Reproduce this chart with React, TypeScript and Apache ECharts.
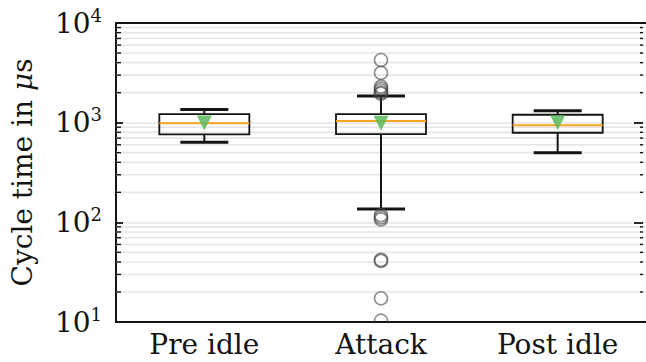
import React, { useEffect, useRef } from "react";
import * as echarts from "echarts";

const categories = ["Pre idle", "Attack", "Post idle"];
const lowerWhisker = [635, 136, 499];
const q1 = [763, 769, 792];
const median = [984, 1038, 940];
const q3 = [1219, 1219, 1200];
const upperWhisker = [1358, 1849, 1316];
const means = [990, 985, 1000];
const attackOutliers = [4250, 3160, 2300, 2200, 2100, 2000, 1950, 118, 112, 107, 42, 41, 17.3, 10.3];
const minorGrid = [
  20, 30, 40, 50, 60, 70, 80, 90,
  200, 300, 400, 500, 600, 700, 800, 900,
  2000, 3000, 4000, 5000, 6000, 7000, 8000, 9000,
];

const FONT = "DejaVu Serif";
const INK = "#141414";
const RIGHT_AXIS_SHIFT = 3;

export default function App() {
  const ref = useRef<HTMLDivElement>(null);
  useEffect(() => {
    if (!ref.current) return;
    const chart = echarts.init(ref.current, undefined, { renderer: "svg" });
    const boxData = categories.map((_, i) => [i, lowerWhisker[i], q1[i], median[i], q3[i], upperWhisker[i]]);
    const outlierData = attackOutliers.map((v) => [1, v]);
    const meanData = means.map((v, i) => [i, v]);
    const minorData = minorGrid.map((v) => [0, v]);

    const option: any = {
      animation: false,
      backgroundColor: "#ffffff",
      grid: { left: 116, top: 23, width: 535, height: 299, containLabel: false },
      xAxis: [
        {
          type: "category",
          data: categories,
          boundaryGap: true,
          axisLine: { lineStyle: { color: INK, width: 2 } },
          axisTick: { inside: true, alignWithLabel: true, length: 13, lineStyle: { color: INK, width: 1.8 } },
          axisLabel: { fontFamily: FONT, fontSize: 28, color: INK, margin: 8 },
          splitLine: { show: false },
        },
        {
          type: "category",
          data: categories,
          position: "top",
          boundaryGap: true,
          axisLine: { lineStyle: { color: INK, width: 2 } },
          axisTick: { inside: true, alignWithLabel: true, length: 13, lineStyle: { color: INK, width: 1.8 } },
          axisLabel: { show: false },
          splitLine: { show: false },
        },
      ],
      yAxis: [
        {
          type: "log",
          logBase: 10,
          min: 10,
          max: 10000,
          name: "Cycle time in {i|μ}s",
          nameLocation: "middle",
          nameGap: 80,
          nameTextStyle: {
            fontFamily: FONT,
            fontSize: 28,
            color: INK,
            rich: { i: { fontFamily: FONT, fontSize: 28, fontStyle: "italic", color: INK } },
          },
          axisLine: { show: true, lineStyle: { color: INK, width: 2 } },
          axisTick: { show: true, inside: true, length: 7, lineStyle: { color: INK, width: 1.8 } },
          axisLabel: {
            margin: 14,
            formatter: (v: number) => `{b|10}{s|${Math.round(Math.log10(v))}}`,
            rich: {
              b: { fontFamily: FONT, fontSize: 28, lineHeight: 34, color: INK },
              s: { fontFamily: FONT, fontSize: 18, lineHeight: 18, verticalAlign: "top", color: INK },
            },
          },
          splitLine: { show: true, lineStyle: { color: "#e6e6e6", width: 1.6 } },
        },
        {
          type: "log",
          logBase: 10,
          min: 10,
          max: 10000,
          position: "right",
          offset: -RIGHT_AXIS_SHIFT,
          axisLine: { show: false },
          axisTick: { show: true, inside: true, length: 9, lineStyle: { color: INK, width: 1.8 } },
          axisLabel: { show: false },
          splitLine: { show: false },
        },
      ],
      series: [
        {
          type: "custom",
          name: "minor grid",
          z: 1,
          silent: true,
          data: minorData,
          encode: { x: 0, y: 1 },
          renderItem: (params: any, api: any) => {
            const p = api.coord([0, api.value(1)]);
            const cs = params.coordSys;
            const y = p[1];
            const rx = cs.x + cs.width - RIGHT_AXIS_SHIFT;
            return {
              type: "group",
              children: [
                { type: "line", shape: { x1: cs.x, y1: y, x2: cs.x + cs.width, y2: y }, style: { stroke: "#e6e6e6", lineWidth: 1.6 } },
                { type: "line", shape: { x1: cs.x, y1: y, x2: cs.x + 5, y2: y }, style: { stroke: INK, lineWidth: 1.4 } },
                { type: "line", shape: { x1: rx - 3, y1: y, x2: rx, y2: y }, style: { stroke: INK, lineWidth: 1.4 } },
              ],
            };
          },
        },
        {
          type: "custom",
          name: "boxes",
          z: 3,
          data: boxData,
          encode: { x: 0, y: [1, 2, 3, 4, 5] },
          renderItem: (params: any, api: any) => {
            const i = api.value(0);
            const lo = api.coord([i, api.value(1)]);
            const pq1 = api.coord([i, api.value(2)]);
            const pm = api.coord([i, api.value(3)]);
            const pq3 = api.coord([i, api.value(4)]);
            const hi = api.coord([i, api.value(5)]);
            const x = lo[0];
            const hw = 45;
            const cw = 24;
            return {
              type: "group",
              children: [
                { type: "line", shape: { x1: x, y1: pq1[1], x2: x, y2: lo[1] }, style: { stroke: INK, lineWidth: 2 } },
                { type: "line", shape: { x1: x, y1: pq3[1], x2: x, y2: hi[1] }, style: { stroke: INK, lineWidth: 2 } },
                { type: "line", shape: { x1: x - cw, y1: lo[1], x2: x + cw, y2: lo[1] }, style: { stroke: INK, lineWidth: 3 } },
                { type: "line", shape: { x1: x - cw, y1: hi[1], x2: x + cw, y2: hi[1] }, style: { stroke: INK, lineWidth: 3 } },
                {
                  type: "rect",
                  shape: { x: x - hw, y: pq3[1], width: 2 * hw, height: pq1[1] - pq3[1] },
                  style: { fill: "none", stroke: INK, lineWidth: 1.8 },
                },
                { type: "line", shape: { x1: x - hw, y1: pm[1], x2: x + hw, y2: pm[1] }, style: { stroke: "#f5a623", lineWidth: 2 } },
              ],
            };
          },
        },
        {
          type: "custom",
          name: "outliers",
          z: 4,
          clip: true,
          data: outlierData,
          encode: { x: 0, y: 1 },
          renderItem: (params: any, api: any) => {
            const p = api.coord([api.value(0), api.value(1)]);
            return {
              type: "circle",
              shape: { cx: p[0], cy: p[1], r: 6.5 },
              style: { fill: "none", stroke: "rgba(70,70,70,0.6)", lineWidth: 1.6 },
            };
          },
        },
        {
          type: "scatter",
          name: "mean",
          z: 5,
          data: meanData,
          symbol: "triangle",
          symbolRotate: 180,
          symbolSize: [15, 15],
          itemStyle: { color: "#5cb85c", opacity: 0.85 },
        },
      ],
    };
    chart.setOption(option);
    return () => chart.dispose();
  }, []);

  return (
    <div style={{ position: "absolute", left: 0, top: 0, width: 646, height: 362, overflow: "hidden", background: "#fff" }}>
      <div ref={ref} style={{ width: 646, height: 362 }} />
    </div>
  );
}
